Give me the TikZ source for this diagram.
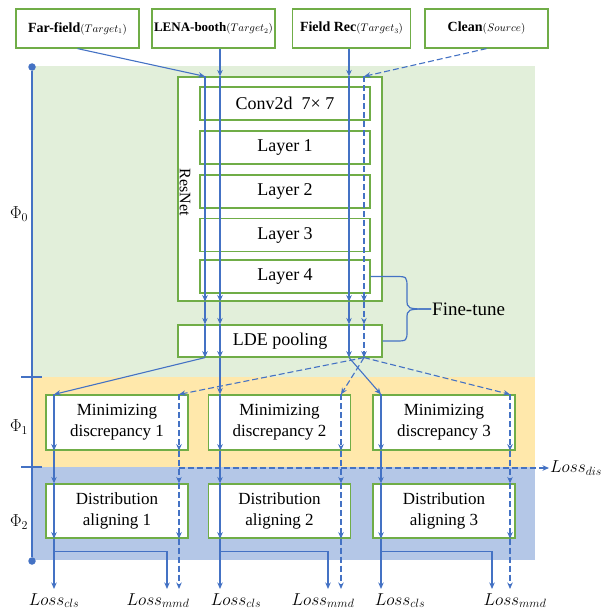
\documentclass[tikz,border=0pt]{standalone}
\usepackage{fontspec}
\setmainfont{Liberation Serif}
\usetikzlibrary{arrows.meta,calc}
\definecolor{lineblue}{HTML}{4472C4}
\definecolor{boxgreen}{HTML}{70AD47}
\definecolor{bgGreen}{HTML}{E2EFDA}
\definecolor{bgOrange}{HTML}{FFE8AB}
\definecolor{bgBlue}{HTML}{B4C7E7}
\newcommand\fsz[1]{\fontsize{#1}{#1}\selectfont}
\newcommand\tgt[1]{{\fontsize{10.5}{10.5}\selectfont$(#1)$}}
\begin{document}
\begin{tikzpicture}[x=1pt,y=-1pt,
  box/.style={draw=boxgreen,line width=1.2pt,fill=white,inner sep=0pt,align=center},
  topbox/.style={box,minimum height=39pt,font=\fsz{14}},
  layerbox/.style={box,minimum width=170pt,minimum height=33pt,font=\fsz{18}},
  stagebox/.style={box,minimum width=142pt,minimum height=55pt,font=\fontsize{17}{21}\selectfont},
  flow/.style={draw=lineblue,line width=1.1pt,-{Stealth[length=6.5pt,width=5.5pt]}},
  flowd/.style={flow,dash pattern=on 6pt off 3pt},
  losslbl/.style={font=\fsz{17.5},inner sep=1pt,anchor=base},
  philbl/.style={font=\fsz{17},inner sep=0pt},
  dot/.style={circle,fill=lineblue,inner sep=0pt,minimum size=7.5pt},
  tick/.style={draw=lineblue,line width=2.5pt},
  brace/.style={draw=lineblue,line width=1.2pt}]
\useasboundingbox (0,0) rectangle (606,610);

% stage backgrounds
\fill[bgGreen]  (32,66)  rectangle (535,377);
\fill[bgOrange] (32,377) rectangle (535,467);
\fill[bgBlue]   (32,467) rectangle (535,560);

% stage axis
\node[dot] (axtop) at (32,67) {};
\node[dot] (axbot) at (32,561) {};
\draw[lineblue,line width=1.6pt] (axtop) -- (axbot);
\draw[tick] (21,377) -- (42,377);
\draw[tick] (21,467) -- (42,467);
\node[philbl] (phi0) at (19,214) {$\Phi_0$};
\node[philbl] (phi1) at (19,427) {$\Phi_1$};
\node[philbl] (phi2) at (19,522) {$\Phi_2$};

% input domains
\node[topbox,minimum width=123pt] (ff)    at (77.5,28.5)  {\textbf{Far-field}\tgt{Target_1}};
\node[topbox,minimum width=123pt] (lena)  at (213.5,28.5) {\fsz{13}\textbf{LENA-booth}\tgt{Target_2}};
\node[topbox,minimum width=118pt] (frec)  at (351.5,28.5) {\textbf{Field Rec}\tgt{Target_3}};
\node[topbox,minimum width=123pt] (clean) at (486.5,28.5) {\textbf{Clean}\tgt{Source}};

% backbone
\node[box,minimum width=204pt,minimum height=224pt] (resnet) at (280,189) {};
\node[rotate=-90,font=\fsz{16},inner sep=0pt] (resnetlbl) at (185,192) {ResNet};
\node[layerbox] (conv) at (285,103.5) {Conv2d\ \ 7×\ 7};
\node[layerbox] (l1) at (285,147.5) {Layer 1};
\node[layerbox] (l2) at (285,191.5) {Layer 2};
\node[layerbox] (l3) at (285,235) {Layer 3};
\node[layerbox] (l4) at (285,276.5) {Layer 4};
\node[box,minimum width=204pt,minimum height=32pt,font=\fsz{18}] (lde) at (280,341) {LDE pooling};

% fine-tune brace
\node[anchor=west,font=\fsz{19},inner sep=1pt] (ft) at (431,309) {Fine-tune};
\draw[brace] (l4.east) -- (395,276.5) .. controls (407,276.5) .. (407,288) -- (407,299)
  .. controls (407,309) .. (ft.west);
\draw[brace] (ft.west) .. controls (407,309) .. (407,319) -- (407,330)
  .. controls (407,341) .. (395,341) -- (lde.east);

% stage boxes
\foreach \i/\cx in {1/117,2/279.5,3/444} {
  \node[stagebox] (md\i) at (\cx,422.5) {Minimizing\\discrepancy \i};
  \node[stagebox,minimum height=54pt] (da\i) at (\cx,511) {Distribution\\aligning \i};
}

% column positions
\coordinate (colA) at (205,0);
\coordinate (colB) at (220,0);
\coordinate (colC) at (349,0);
\coordinate (colD) at (364,0);
\coordinate (s1) at (54,0);  \coordinate (d1) at (179,0); \coordinate (b1) at (167,0);
\coordinate (s2) at (220,0); \coordinate (d2) at (341,0); \coordinate (b2) at (328,0);
\coordinate (s3) at (381,0); \coordinate (d3) at (510,0); \coordinate (b3) at (492,0);

% loss labels
\node[losslbl] (lc1) at (54,605)  {$Loss_{cls}$};
\node[losslbl] (lc2) at (236,605) {$Loss_{cls}$};
\node[losslbl] (lc3) at (400,605) {$Loss_{cls}$};
\node[losslbl] (lm1) at (158,605) {$Loss_{mmd}$};
\node[losslbl] (lm2) at (323,605) {$Loss_{mmd}$};
\node[losslbl] (lm3) at (515,605) {$Loss_{mmd}$};
\node[font=\fsz{17},inner sep=1pt,anchor=west] (ldis) at (549,468) {$Loss_{dis}$};

% inputs into the backbone
\draw[flow]  (ff.south) -- (resnet.north -| colA);
\draw[flow]  (lena.south -| colB) -- (resnet.north -| colB);
\draw[flow]  (frec.south -| colC) -- (resnet.north -| colC);
\draw[flowd] (clean.south) -- (resnet.north -| colD);

% through the backbone and pooling
\foreach \c/\st in {colA/flow,colB/flow,colC/flow,colD/flowd} {
  \draw[\st] (resnet.north -| \c) -- (resnet.south -| \c);
  \draw[\st] (resnet.south -| \c) -- (lde.north -| \c);
  \draw[\st] (lde.north -| \c) -- (lde.south -| \c);
}

% pooled embeddings to the branches
\draw[flow]  (lde.south -| colA) -- (md1.north -| s1);
\draw[flow]  (lde.south -| colB) -- (md2.north -| s2);
\draw[flow]  (lde.south -| colC) -- (md3.north -| s3);
\draw[flowd] (lde.south -| colD) -- (md1.north -| d1);
\draw[flowd] (lde.south -| colD) -- (md2.north -| d2);
\draw[flowd] (lde.south -| colD) -- (md3.north -| d3);

% discrepancy loss
\coordinate (disstart) at (179,468);
\draw[flowd] (disstart) -- (ldis.west);

% branch flows
\foreach \i in {1,2,3} {
  \draw[flow]  (md\i.north -| s\i) -- (md\i.south -| s\i);
  \draw[flowd] (md\i.north -| d\i) -- (md\i.south -| d\i);
  \draw[flow]  (md\i.south -| s\i) -- (da\i.north -| s\i);
  \draw[flowd] (md\i.south -| d\i) -- (da\i.north -| d\i);
  \draw[flow]  (da\i.north -| s\i) -- (da\i.south -| s\i);
  \draw[flowd] (da\i.north -| d\i) -- (da\i.south -| d\i);
  \draw[flow,shorten >=3pt]  (da\i.south -| s\i) -- (lc\i.north -| s\i);
  \draw[flowd,shorten >=3pt] (da\i.south -| d\i) -- (lm\i.north -| d\i);
  \draw[flow,shorten >=3pt]  ($(da\i.south -| s\i)+(0,13)$) -| (lm\i.north -| b\i);
}
\end{tikzpicture}
\end{document}
